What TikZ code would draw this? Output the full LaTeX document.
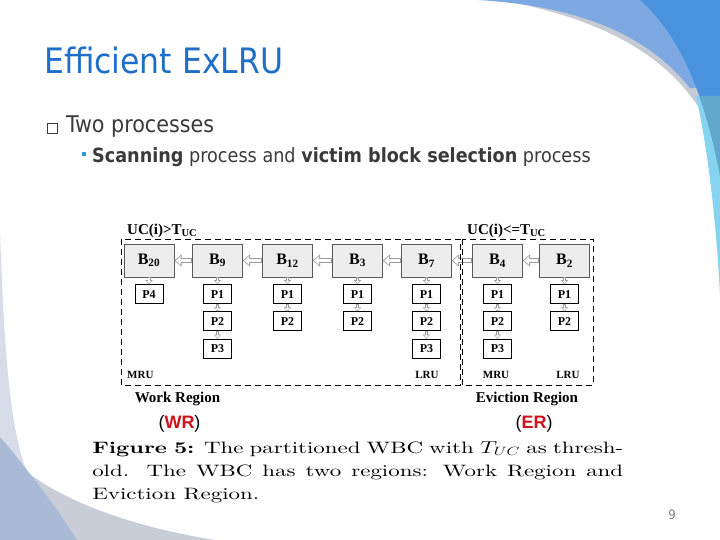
\documentclass[tikz,border=0pt]{standalone}
\usepackage{fontspec}
\usepackage{tikz}
\usetikzlibrary{arrows.meta,positioning}
\newfontfamily\slidefont{DejaVu Sans Condensed}
\newfontfamily\paperfont{Liberation Serif}
\newfontfamily\tagfont{Liberation Sans}
\newfontfamily\capfont{lmroman10-regular.otf}[BoldFont=lmroman10-bold.otf, ItalicFont=lmroman10-italic.otf]
\definecolor{titleblue}{HTML}{1F6FC8}
\definecolor{bodygray}{HTML}{3A3A3A}
\definecolor{bulletblue}{HTML}{2E9BD6}
\definecolor{errred}{HTML}{D0101A}
\definecolor{boxfill}{HTML}{EDEDED}
\definecolor{arrowgray}{HTML}{9A9A9A}
\definecolor{swooshdark}{HTML}{4A92DE}
\definecolor{swooshlight}{HTML}{7EA8E2}
\definecolor{swooshgray}{HTML}{C6CAD4}
\definecolor{swooshcyan}{HTML}{86D4F0}
\definecolor{swooshteal}{HTML}{62A8CC}
\definecolor{cornerpale}{HTML}{D6DDE9}
\definecolor{cornerblue}{HTML}{A8BAD6}
\definecolor{cornergray}{HTML}{C8CDD8}
\tikzset{
  blkbox/.style={draw=black!65, fill=boxfill, minimum width=50pt, minimum height=33pt,
    font=\paperfont\bfseries\fontsize{16}{16}\selectfont},
  pagebox/.style={draw=black, fill=white, line width=0.7pt, minimum width=28pt, minimum height=19pt,
    font=\paperfont\bfseries\fontsize{12}{12}\selectfont},
  % outlined block arrows: grey arrow with a white one inside
  hollow/.style={draw=arrowgray, line width=5.6pt, -{Triangle[length=7.5pt, width=12pt]},
    postaction={draw=white, line width=3.8pt, shorten >=1.4pt, shorten <=0.9pt,
      -{Triangle[length=5pt, width=8.4pt]}}},
  hollowsm/.style={draw=arrowgray, line width=3pt, -{Triangle[length=4pt, width=7pt]},
    postaction={draw=white, line width=1.8pt, shorten >=0.9pt, shorten <=0.6pt,
      -{Triangle[length=2.4pt, width=4.4pt]}}},
  region/.style={draw=black, line width=0.9pt, dash pattern=on 6pt off 4pt},
  figlbl/.style={font=\paperfont\bfseries\fontsize{15}{15}\selectfont},
  endlbl/.style={font=\paperfont\bfseries\fontsize{11}{11}\selectfont},
  tag/.style={font=\tagfont\fontsize{18}{18}\selectfont},
}
\begin{document}
\begin{tikzpicture}[x=1pt, y=-1pt, every node/.style={inner sep=0pt}]
\useasboundingbox (0,0) rectangle (720,540);
% swooshes, top right corner
\fill[swooshgray] (500,0) .. controls (600,18) and (670,55) .. (705,118) -- (720,118) -- (720,0) -- cycle;
\fill[swooshlight] (478,0) .. controls (575,6) and (645,32) .. (690,88) -- (720,88) -- (720,0) -- cycle;
\fill[swooshcyan] (696,96) .. controls (708,150) and (716,220) .. (720,295) -- (720,96) -- cycle;
\fill[swooshdark] (640,0) .. controls (668,25) and (700,70) .. (720,175) -- (720,0) -- cycle;
\begin{scope}
  \clip (696,96) .. controls (708,150) and (716,220) .. (720,295) -- (720,96) -- cycle;
  \fill[swooshteal] (640,0) .. controls (668,25) and (700,70) .. (720,175) -- (720,0) -- cycle;
\end{scope}
% swooshes, bottom left corner
\fill[cornerpale] (0,230) .. controls (4,350) and (10,430) .. (27,472) -- (0,540) -- cycle;
\fill[cornergray] (27,472) .. controls (70,505) and (140,528) .. (215,540) -- (60,540) -- cycle;
\fill[cornerblue] (0,437) .. controls (20,460) and (55,505) .. (77,540) -- (0,540) -- cycle;

% slide text
\node[anchor=base west, text=titleblue, font=\slidefont\fontsize{35}{35}\selectfont] (title) at (44,74) {Efficient ExLRU};
\node[draw=bodygray, line width=0.7pt, minimum size=10pt] (bx) at (52,128) {};
\node[anchor=base west, text=bodygray, font=\slidefont\fontsize{23}{23}\selectfont] (lvl1) at (66,133) {Two processes};
\node[fill=bulletblue, minimum size=4.5pt] (sq) at (84,154) {};
\node[anchor=base west, text=bodygray, font=\slidefont\fontsize{19.6}{19.6}\selectfont] (lvl2) at (92,163)
  {\textbf{Scanning} process and \textbf{victim block selection} process};

% blocks, MRU on the left
\foreach \name/\x/\sub in {b20/149/20, b9/217.5/9, b12/287.5/12, b3/357.5/3, b7/426.5/7, b4/497.5/4, b2/564.5/2}{
  \node[blkbox] (\name) at (\x,260.5) {B\textsubscript{\sub}};
}
\foreach \from/\to in {b9/b20, b12/b9, b3/b12, b7/b3, b4/b7, b2/b4}{
  \draw[hollow] (\from) -- (\to);
}
% pages of each block
\node[pagebox, below=7pt of b20] (b20-1) {P4};
\draw[hollowsm] (b20) -- (b20-1);
\foreach \blk/\n in {b9/3, b12/2, b3/2, b7/3, b4/3, b2/2}{
  \node[pagebox, below=7pt of \blk] (\blk-1) {P1};
  \draw[hollowsm] (\blk) -- (\blk-1);
  \foreach \i [evaluate=\i as \j using int(\i-1)] in {2,...,\n}{
    \node[pagebox, below=7.5pt of \blk-\j] (\blk-\i) {P\i};
    \draw[hollowsm] (\blk-\j) -- (\blk-\i);
  }
}
% the two regions
\draw[region] (121,239) rectangle (460,385);
\draw[region] (462,239) rectangle (593,385);
\node[figlbl, anchor=base west] (thrhi) at (127,234) {UC(i)>T\textsubscript{UC}};
\node[figlbl, anchor=base west] (thrlo) at (467,234) {UC(i)<=T\textsubscript{UC}};
\node[endlbl, anchor=base west] (mruw) at (127,378) {MRU};
\node[endlbl, anchor=base] (lruw) at (427,378) {LRU};
\node[endlbl, anchor=base] (mrue) at (496,378) {MRU};
\node[endlbl, anchor=base] (lrue) at (568,378) {LRU};
\node[figlbl, anchor=base] (wreg) at (177.5,402) {Work Region};
\node[figlbl, anchor=base] (ereg) at (527,402) {Eviction Region};
\node[tag, anchor=base] (wr) at (179.5,428) {(\textcolor{errred}{\textbf{WR}})};
\node[tag, anchor=base] (er) at (534,428) {(\textcolor{errred}{\textbf{ER}})};

% caption of the paper figure
\begin{scope}[shift={(92,441)}, xscale=1.39]
\node[transform shape, anchor=north west, text width=382pt, align=justify,
  font=\capfont\fontsize{16.5}{23}\selectfont] (caption) at (0,0)
  {\textbf{Figure 5:} The partitioned WBC with $T_{UC}$ as thresh-\linebreak
   old. The WBC has two regions: Work Region and\linebreak Eviction Region.};
\end{scope}

\node[text=gray, font=\slidefont\fontsize{13}{13}\selectfont] (pgnum) at (672,515) {9};
\end{tikzpicture}
\end{document}
